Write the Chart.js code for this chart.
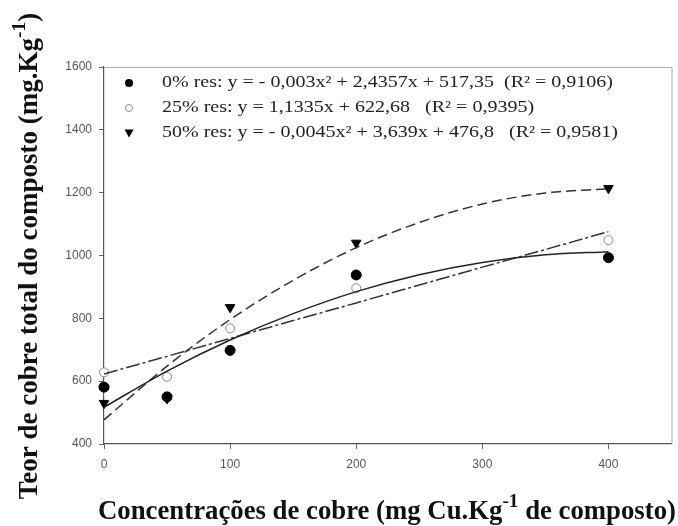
<!DOCTYPE html>
<html>
<head>
<meta charset="utf-8">
<script src="https://cdn.jsdelivr.net/npm/chart.js@4/dist/chart.umd.min.js"></script>
<style>
  html, body { margin: 0; padding: 0; background: #fff; }
  canvas { display: block; }
</style>
</head>
<body>
<canvas id="cobre" width="678" height="526"></canvas>
<script>
// measured points (mg Cu/kg added vs total Cu in compost)
const doses = [0, 50, 100, 200, 400]
const res0 = [581, 550, 698, 938, 993]
const res25 = [628, 614, 768, 896, 1049]
const res50 = [530, 545, 835, 1040, 1214]

// fitted curves
const fitX = [0, 50, 100, 150, 200, 250, 300, 350, 400]
const fit0 = [517, 632, 731, 815, 885, 939, 978, 1002, 1012]
const fit25 = [623, 679, 736, 793, 849, 906, 963, 1019, 1076]
const fit50 = [477, 648, 796, 921, 1025, 1105, 1164, 1199, 1212]

const xTicks = [0, 100, 200, 300, 400]
const yTicks = [400, 600, 800, 1000, 1200, 1400, 1600]

const legendLabels = [
	"0% res: y = - 0,003x² + 2,4357x + 517,35  (R² = 0,9106)",
	"25% res: y = 1,1335x + 622,68   (R² = 0,9395)",
	"50% res: y = - 0,0045x² + 3,639x + 476,8   (R² = 0,9581)"
]

const yTitle = [{ t: "Teor de cobre total do composto (mg.Kg" }, { t: "-1", sup: true }, { t: ")" }]
const xTitle = [{ t: "Concentrações de cobre (mg Cu.Kg" }, { t: "-1", sup: true }, { t: " de composto)" }]

function pts(xs, ys) {
	return xs.map((x, i) => ({ x: x, y: ys[i] }))
}

const SERIF = '"Liberation Serif", "Times New Roman", serif'

function partsWidth(ctx, parts, size) {
	let w = 0
	parts.forEach(p => {
		ctx.font = "bold " + (p.sup ? size * 0.72 : size) + "px " + SERIF
		w += ctx.measureText(p.t).width
	})
	return w
}

function fitSize(ctx, parts, target) {
	let size = 30
	while (size > 8 && partsWidth(ctx, parts, size) > target) size -= 0.25
	return size
}

// draws centered text with superscripts, at current transform
function drawParts(ctx, parts, cx, cy, size) {
	let w = partsWidth(ctx, parts, size)
	let x = cx - w / 2
	ctx.textBaseline = "middle"
	ctx.textAlign = "left"
	ctx.fillStyle = "#111"
	parts.forEach(p => {
		let s = p.sup ? size * 0.72 : size
		ctx.font = "bold " + s + "px " + SERIF
		ctx.fillText(p.t, x, p.sup ? cy - size * 0.38 : cy)
		x += ctx.measureText(p.t).width
	})
}

const decorations = {
	id: "decorations",
	afterDraw(chart) {
		const ctx = chart.ctx
		const a = chart.chartArea
		ctx.save()

		// light frame on top and right
		ctx.strokeStyle = "#aaa"
		ctx.lineWidth = 1
		ctx.beginPath()
		ctx.moveTo(a.left, a.top + 0.5)
		ctx.lineTo(a.right + 0.5, a.top + 0.5)
		ctx.lineTo(a.right + 0.5, a.bottom)
		ctx.stroke()

		// legend inside the plot
		ctx.font = "16px " + SERIF
		// the scanned legend text is wide: stretch so the first row spans ~451px
		let stretch = 451 / ctx.measureText(legendLabels[0]).width
		let rowY = [83, 108, 133]
		legendLabels.forEach((lab, i) => {
			let y = rowY[i]
			let mx = 129
			ctx.lineWidth = 1
			if (i == 0) {
				ctx.fillStyle = "#000"
				ctx.beginPath()
				ctx.arc(mx, y, 4, 0, Math.PI * 2)
				ctx.fill()
			} else if (i == 1) {
				ctx.strokeStyle = "#888"
				ctx.fillStyle = "#fff"
				ctx.beginPath()
				ctx.arc(mx, y, 3.5, 0, Math.PI * 2)
				ctx.fill()
				ctx.stroke()
			} else {
				ctx.fillStyle = "#000"
				ctx.beginPath()
				ctx.moveTo(mx - 4.5, y - 3.5)
				ctx.lineTo(mx + 4.5, y - 3.5)
				ctx.lineTo(mx, y + 4.5)
				ctx.closePath()
				ctx.fill()
			}
			ctx.save()
			ctx.translate(162, y)
			ctx.scale(stretch, 1)
			ctx.fillStyle = "#222"
			ctx.font = "16px " + SERIF
			ctx.textAlign = "left"
			ctx.textBaseline = "middle"
			ctx.fillText(lab, 0, 0)
			ctx.restore()
		})

		// axis titles
		let sx = fitSize(ctx, xTitle, 578)
		drawParts(ctx, xTitle, 387, 512, sx)

		let sy = fitSize(ctx, yTitle, 488)
		ctx.translate(30, 256)
		ctx.rotate(-Math.PI / 2)
		drawParts(ctx, yTitle, 0, 0, sy)
		ctx.restore()
	}
}

const ctx = document.getElementById("cobre").getContext("2d")
const chart = new Chart(ctx, {
	type: "scatter",
	data: {
		datasets: [
			{
				label: "fit 0%",
				type: "line",
				data: pts(fitX, fit0),
				borderColor: "#222",
				borderWidth: 1.5,
				pointRadius: 0,
				cubicInterpolationMode: "monotone",
				fill: false
			},
			{
				label: "fit 25%",
				type: "line",
				data: pts(fitX, fit25),
				borderColor: "#333",
				borderWidth: 1.5,
				borderDash: [14, 3, 3, 3],
				pointRadius: 0,
				fill: false
			},
			{
				label: "fit 50%",
				type: "line",
				data: pts(fitX, fit50),
				borderColor: "#333",
				borderWidth: 1.5,
				borderDash: [10, 5],
				pointRadius: 0,
				cubicInterpolationMode: "monotone",
				fill: false
			},
			{
				label: "0% res",
				data: pts(doses, res0),
				pointStyle: "circle",
				pointRadius: 5,
				backgroundColor: "#000",
				borderColor: "#000",
				clip: false
			},
			{
				label: "25% res",
				data: pts(doses, res25),
				pointStyle: "circle",
				pointRadius: 4.5,
				backgroundColor: "#fff",
				borderColor: "#888",
				borderWidth: 1,
				clip: false
			},
			{
				label: "50% res",
				data: pts(doses, res50),
				pointStyle: "triangle",
				rotation: 180,
				pointRadius: 5.5,
				backgroundColor: "#000",
				borderColor: "#000",
				clip: false
			}
		]
	},
	options: {
		responsive: false,
		animation: false,
		layout: { padding: { top: 67, right: 6, left: 0, bottom: 0 } },
		plugins: {
			legend: { display: false },
			tooltip: { enabled: false }
		},
		scales: {
			x: {
				type: "linear",
				min: 0,
				max: 450,
				afterBuildTicks: s => { s.ticks = xTicks.map(v => ({ value: v })) },
				afterFit: s => { s.height = 82 },
				grid: { drawOnChartArea: false, tickLength: 5, color: "#666" },
				border: { color: "#555", width: 1.2 },
				ticks: { color: "#555", padding: 8, font: { family: "Liberation Sans", size: 12 }, callback: v => String(v) }
			},
			y: {
				min: 400,
				max: 1600,
				afterBuildTicks: s => { s.ticks = yTicks.map(v => ({ value: v })) },
				afterFit: s => { s.width = 104 },
				grid: { drawOnChartArea: false, tickLength: 5, color: "#666" },
				border: { color: "#555", width: 1.2 },
				ticks: { color: "#555", padding: 7, font: { family: "Liberation Sans", size: 12 }, callback: v => String(v) }
			}
		}
	},
	plugins: [decorations]
})
</script>
</body>
</html>
